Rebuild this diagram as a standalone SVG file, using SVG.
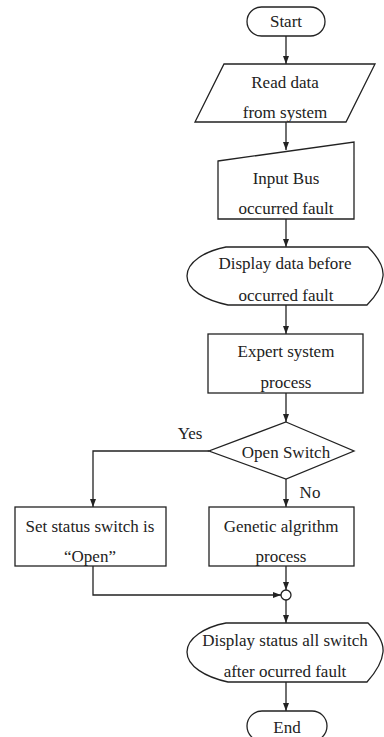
<svg xmlns="http://www.w3.org/2000/svg" width="384" height="737" viewBox="0 0 384 737">
<defs>
<marker id="ah" markerWidth="8" markerHeight="8" refX="8" refY="4" orient="auto" markerUnits="userSpaceOnUse">
<path d="M0,1 L8,4 L0,7 Z" fill="#222"/>
</marker>
</defs>
<style>
.s{fill:#fff;stroke:#222;stroke-width:1.3}
.c{fill:none;stroke:#222;stroke-width:1.3}
text{font-family:"Liberation Serif","Times New Roman",serif;font-size:17px;fill:#222;text-anchor:middle}
</style>
<rect width="384" height="737" fill="#fff"/>
<g id="connectors">
<path class="c" d="M286,36 V64" marker-end="url(#ah)"/>
<path class="c" d="M286,122 V150" marker-end="url(#ah)"/>
<path class="c" d="M286,219 V247" marker-end="url(#ah)"/>
<path class="c" d="M286,305 V334" marker-end="url(#ah)"/>
<path class="c" d="M286,393 V422" marker-end="url(#ah)"/>
<path class="c" d="M209,451 H93 V507" marker-end="url(#ah)"/>
<path class="c" d="M286,479 V507" marker-end="url(#ah)"/>
<path class="c" d="M286,566 V590" marker-end="url(#ah)"/>
<path class="c" d="M93,566 V595 H281" marker-end="url(#ah)"/>
<path class="c" d="M286,600 V623" marker-end="url(#ah)"/>
<path class="c" d="M286,682 V711" marker-end="url(#ah)"/>
<text x="190" y="439">Yes</text>
<text x="310" y="498">No</text>
</g>
<g id="start">
<rect class="s" x="247" y="7" width="78" height="29" rx="14.5"/>
<text x="286" y="27">Start</text>
</g>
<g id="read">
<path class="s" d="M224,64 H375 L346,122 H195 Z"/>
<text x="285" y="88">Read data</text>
<text x="285" y="118">from system</text>
</g>
<g id="input">
<path class="s" d="M218,161 L354,142 V219 H218 Z"/>
<text x="286" y="184">Input Bus</text>
<text x="286" y="214">occurred fault</text>
</g>
<g id="display1">
<path class="s" d="M226,247 H368 C378,257 384,266 383,276 C382,287 376,296 367,305 H228 C205,300 187,290 187,276 C187,262 205,251 226,247 Z"/>
<text x="285" y="269">Display data before</text>
<text x="286" y="301">occurred fault</text>
</g>
<g id="expert">
<rect class="s" x="208" y="334" width="155" height="59"/>
<text x="286" y="357">Expert system</text>
<text x="286" y="388">process</text>
</g>
<g id="decision">
<path class="s" d="M286,422 L354,451 L286,479 L209,451 Z"/>
<text x="286" y="458">Open Switch</text>
</g>
<g id="setstatus">
<rect class="s" x="15" y="507" width="151" height="59"/>
<text x="90" y="532">Set status switch is</text>
<text x="90" y="562">“Open”</text>
</g>
<g id="genetic">
<rect class="s" x="209" y="507" width="145" height="59"/>
<text x="281" y="532">Genetic algrithm</text>
<text x="281" y="562">process</text>
</g>
<g id="join">
<circle class="s" cx="286" cy="595" r="5"/>
</g>
<g id="display2">
<path class="s" d="M226,623 H368 C378,633 384,642 383,652 C382,663 376,672 367,682 H228 C205,677 187,666 187,652 C187,638 205,627 226,623 Z"/>
<text x="285" y="646">Display status all switch</text>
<text x="285" y="677">after ocurred fault</text>
</g>
<g id="end">
<rect class="s" x="247" y="711" width="80" height="30" rx="15"/>
<text x="287" y="733">End</text>
</g>
</svg>
